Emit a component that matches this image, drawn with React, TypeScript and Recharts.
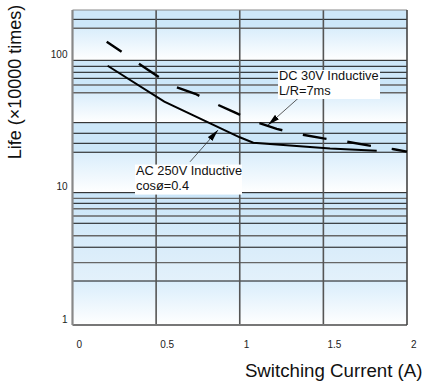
import React from 'react';
import { ComposedChart, Line, XAxis, YAxis, ReferenceLine, ReferenceArea, ReferenceDot, Label } from 'recharts';

const FONT = '"Liberation Sans", Arial, Helvetica, sans-serif';

// axis ticks
const currentTicks = [0, 0.5, 1, 1.5, 2];
const lifeTicks = [1, 10, 100];

// AC 250V inductive, cos=0.4 (solid)
const acCurrent = [0.21, 0.549, 1.0, 1.081, 1.54, 1.819];
const acLife = [91, 48.7, 26.2, 23.85, 21.6, 20.75];

// DC 30V inductive, L/R=7ms (dashed)
const dcCurrent = [0.2045, 0.4975, 0.593, 0.734, 0.842, 0.973, 1.091, 1.221, 1.356, 1.5, 1.64, 1.789, 1.922, 2.0];
const dcLife = [138.2, 77.4, 64.3, 55.9, 47.8, 40.2, 34.4, 30.3, 27.7, 25.7, 24.3, 22.5, 21.3, 20.4];

// horizontal rulings of the printed grid
const darkRules = [204, 100, 90.1, 81.2, 73.1, 33.8, 28.1, 23.6, 20.2, 10, 8.31, 5.87, 3.87, 2.15];
const greyRules = [174.5, 65.1, 56.9, 9.06, 7.55, 6.66, 4.73, 2.96];

// background bands [from, to]
const blueBands = [[174.5, 240], [56.9, 100], [20.2, 33.8]];
const fadeBands = [[100, 174.5], [33.8, 56.9], [10, 20.2], [1, 2.15]];
const deepBands = [[2.15, 10]];

const acData = acCurrent.map((x, i) => ({ x, life: acLife[i] }));
const dcData = dcCurrent.map((x, i) => ({ x, life: dcLife[i] }));

const XTick = ({ x, y, payload }: any) => (
  <text x={x + 4} y={y + 17} textAnchor="start" dominantBaseline="central" fontSize={10} fill="#222" fontFamily={FONT}>
    {payload.value}
  </text>
);

const YTick = ({ x, y, payload }: any) => (
  <text x={x} y={y - 6} textAnchor="end" dominantBaseline="central" fontSize={10} fill="#222" fontFamily={FONT}>
    {payload.value}
  </text>
);

const Note = ({ viewBox, lines, w, h }: any) => {
  const { x, y } = viewBox;
  return (
    <g>
      <rect x={x} y={y} width={w} height={h} fill="#fff" />
      {lines.map((t: string, i: number) => (
        <text key={i} x={x + 1} y={y + 10.5 + i * 14.8} fontSize={12.8} fill="#111" fontFamily={FONT}>
          {t}
        </text>
      ))}
    </g>
  );
};

export default function App() {
  return (
    <div style={{ position: 'absolute', left: 0, top: 0, width: 423, height: 385, background: '#fff' }}>
      <ComposedChart width={423} height={385} margin={{ top: 10, right: 16, left: 0, bottom: 0 }}>
        <defs>
          <linearGradient id="fade" x1="0" y1="0" x2="0" y2="1">
            <stop offset="0%" stopColor="#d9edfb" />
            <stop offset="100%" stopColor="#ffffff" />
          </linearGradient>
          <linearGradient id="deep" x1="0" y1="0" x2="0" y2="1">
            <stop offset="0%" stopColor="#cae5f8" />
            <stop offset="100%" stopColor="#e3f1fb" />
          </linearGradient>
          <marker id="arrow" markerUnits="userSpaceOnUse" markerWidth="12" markerHeight="6" refX="12" refY="3" orient="auto">
            <path d="M0,0 L12,3 L0,6 z" fill="#000" />
          </marker>
        </defs>

        <XAxis
          type="number"
          dataKey="x"
          domain={[0, 2]}
          ticks={currentTicks}
          tick={<XTick />}
          tickLine={false}
          tickSize={0}
          axisLine={false}
          height={60}
          allowDuplicatedCategory={false}
        >
          <Label
            content={({ viewBox }: any) => (
              <text x={viewBox.x + viewBox.width + 15.5} y={viewBox.y + 51.5} textAnchor="end" fontSize={18.7} fill="#111" fontFamily={FONT}>
                Switching Current (A)
              </text>
            )}
          />
        </XAxis>
        <YAxis
          type="number"
          scale="log"
          domain={[1, 240]}
          ticks={lifeTicks}
          tick={<YTick />}
          tickLine={false}
          tickSize={0}
          tickMargin={5}
          axisLine={false}
          width={72.5}
          allowDataOverflow
        >
          <Label
            content={() => (
              <text
                x={15}
                y={82}
                transform="rotate(-90 15 82)"
                textAnchor="middle"
                dominantBaseline="central"
                fontSize={18}
                fill="#111"
                fontFamily={FONT}
              >
                Life (×10000 times)
              </text>
            )}
          />
        </YAxis>

        {blueBands.map(([a, b], i) => (
          <ReferenceArea key={'b' + i} x1={0} x2={2} y1={a} y2={b} fill="#cde7f9" fillOpacity={1} stroke="none" />
        ))}
        {fadeBands.map(([a, b], i) => (
          <ReferenceArea key={'f' + i} x1={0} x2={2} y1={a} y2={b} fill="url(#fade)" fillOpacity={1} stroke="none" />
        ))}
        {deepBands.map(([a, b], i) => (
          <ReferenceArea key={'d' + i} x1={0} x2={2} y1={a} y2={b} fill="url(#deep)" fillOpacity={1} stroke="none" />
        ))}

        {greyRules.map((v) => (
          <ReferenceLine key={'g' + v} y={v} stroke="#666" strokeWidth={1.4} />
        ))}
        {darkRules.map((v) => (
          <ReferenceLine key={'k' + v} y={v} stroke="#111" strokeWidth={1} />
        ))}
        {currentTicks.slice(1, -1).map((v) => (
          <ReferenceLine key={'v' + v} x={v} stroke="#555" strokeWidth={1.6} />
        ))}

        {/* plot frame */}
        <ReferenceLine y={240} stroke="#888" strokeWidth={1} />
        <ReferenceLine y={1} stroke="#777" strokeWidth={2} />
        <ReferenceLine x={0} stroke="#888" strokeWidth={2.2} />
        <ReferenceLine x={2} stroke="#444" strokeWidth={1.6} />

        <Line data={acData} dataKey="life" type="linear" stroke="#000" strokeWidth={2} dot={false} isAnimationActive={false} />
        <Line
          data={dcData}
          dataKey="life"
          type="linear"
          stroke="#000"
          strokeWidth={2.4}
          strokeDasharray="24 21"
          strokeDashoffset={6}
          dot={false}
          isAnimationActive={false}
        />

        <ReferenceDot
          x={1.2287}
          y={84.5}
          r={0}
          fill="none"
          stroke="none"
          label={{ content: (p: any) => <Note {...p} lines={['DC 30V Inductive', 'L/R=7ms']} w={102} h={29} /> }}
        />
        <ReferenceDot
          x={0.3737}
          y={16.3}
          r={0}
          fill="none"
          stroke="none"
          label={{ content: (p: any) => <Note {...p} lines={['AC 250V Inductive', 'cosø=0.4']} w={107} h={30} /> }}
        />
        <ReferenceLine segment={[{ x: 1.36, y: 53.1 }, { x: 1.169, y: 32.4 }]} stroke="#333" strokeWidth={0.8} markerEnd="url(#arrow)" />
        <ReferenceLine segment={[{ x: 0.7025, y: 17.1 }, { x: 0.87, y: 29.7 }]} stroke="#333" strokeWidth={0.8} markerEnd="url(#arrow)" />
      </ComposedChart>
    </div>
  );
}
